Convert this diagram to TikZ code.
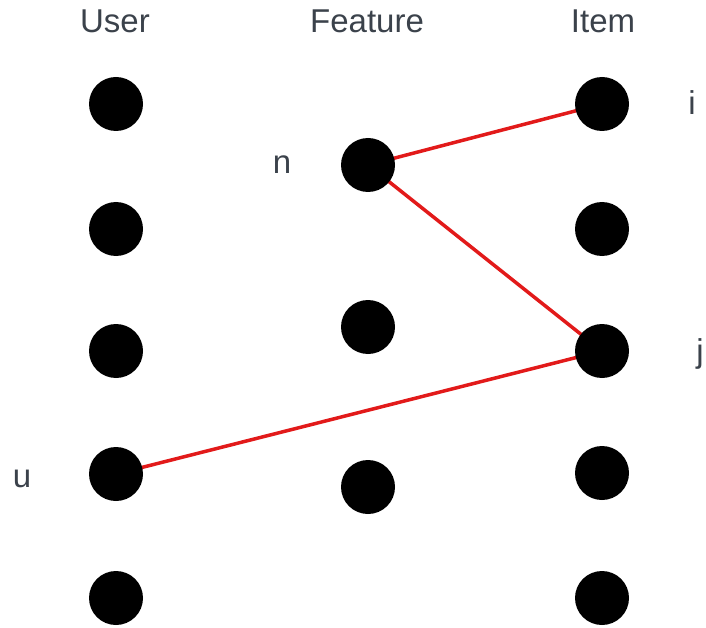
\documentclass[tikz,border=0pt]{standalone}
\usepackage{fontspec}
\setmainfont{Liberation Sans}
\usetikzlibrary{backgrounds}
\definecolor{labelgray}{HTML}{3B424B}
\definecolor{linkred}{HTML}{E21A1A}
\begin{document}
\begin{tikzpicture}[x=1pt,y=-1pt,
  dot/.style={circle,fill=black,draw=none,minimum size=54pt,inner sep=0pt},
  lbl/.style={text=labelgray,font=\fontsize{33}{38}\selectfont,inner sep=0pt},
  link/.style={linkred,line width=3.5pt}]
\useasboundingbox (0,0) rectangle (706,628);
% column headings
\node[lbl,anchor=base] (huser) at (115,33) {User};
\node[lbl,anchor=base] (hfeat) at (367,33) {Feature};
\node[lbl,anchor=base] (hitem) at (603,33) {Item};
% users
\node[dot] (u1) at (116,104) {};
\node[dot] (u2) at (116,229) {};
\node[dot] (u3) at (116,351) {};
\node[dot] (u4) at (116,474) {};
\node[dot] (u5) at (116,598) {};
% features
\node[dot] (f1) at (368,165) {};
\node[dot] (f2) at (368,327) {};
\node[dot] (f3) at (368,487) {};
% items
\node[dot] (i1) at (602,104) {};
\node[dot] (i2) at (602,229) {};
\node[dot] (i3) at (602,351) {};
\node[dot] (i4) at (602,473) {};
\node[dot] (i5) at (602,598) {};
% side labels
\node[lbl,anchor=base] (ln) at (282,174) {n};
\node[lbl,anchor=base] (li) at (692,115) {i};
\node[lbl,anchor=base] (lj) at (700,362) {j};
\node[lbl,anchor=base] (lu) at (22,487) {u};
% links, kept behind the dots
\begin{scope}[on background layer]
\draw[link] (f1.center) -- (i1.center);
\draw[link] (f1.center) -- (i3.center);
\draw[link] (u4.center) -- (i3.center);
\end{scope}
\end{tikzpicture}
\end{document}
